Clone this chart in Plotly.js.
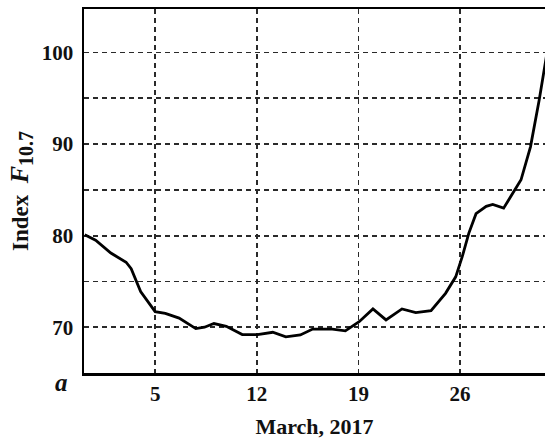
<!DOCTYPE html>
<html>
<head>
<meta charset="utf-8">
<script src="https://cdn.plot.ly/plotly-3.0.1.min.js"></script>
<style>html,body{margin:0;padding:0;background:#fff;}#chart{width:545px;height:441px;}</style>
</head>
<body>
<div id="chart"></div>
<script>
// Day of March 2017
const days = [0.15,0.9,1.95,3.0,3.35,4.0,5.0,5.7,6.65,7.8,8.4,9.05,9.9,11.0,12.05,13.1,14.0,15.0,15.85,17.2,18.1,19.05,20.0,20.9,22.0,22.95,24.0,25.0,25.7,26.15,26.6,27.1,27.8,28.25,29.0,29.6,30.2,30.85,31.45,31.95];
// F10.7 index values
const f107 = [80.1,79.5,78.1,77.1,76.4,73.9,71.7,71.5,71.0,69.85,70.0,70.4,70.1,69.2,69.2,69.45,68.95,69.15,69.8,69.8,69.6,70.6,72.0,70.8,72.0,71.6,71.8,73.7,75.5,77.7,80.25,82.4,83.2,83.4,83.0,84.6,86.1,89.7,94.8,99.6];
const xTicks = [5,12,19,26];
const yTicks = [70,80,90,100];
const yMinorTicks = [75,85,95];

const serif = 'Liberation Serif, Times New Roman, serif';
const trace = {
  x: days, y: f107, type: 'scatter', mode: 'lines',
  line: {color: '#000', width: 2.8},
  hoverinfo: 'skip'
};
const gridStyle = {showgrid: true, gridcolor: '#2a2a2a', gridwidth: 1.8, griddash: '5px,4px'};
const layout = {
  width: 545, height: 441,
  margin: {l: 84, r: 0, t: 9, b: 68},
  paper_bgcolor: '#fff', plot_bgcolor: '#fff',
  showlegend: false,
  font: {family: serif, color: '#000'},
  xaxis: Object.assign({
    range: [0.1, 31.85],
    tickvals: xTicks, ticktext: xTicks.map(String),
    tickfont: {family: serif, size: 21, weight: 'bold', color: '#111'},
    showline: true, linecolor: '#000', linewidth: 2.5, mirror: true,
    ticks: '', zeroline: false, ticklabelstandoff: 0,
    title: {text: 'March, 2017', font: {family: serif, size: 22, weight: 'bold', color: '#111'}, standoff: 14}
  }, gridStyle),
  yaxis: Object.assign({
    range: [65, 104.75],
    tickvals: yTicks, ticktext: yTicks.map(String),
    tickfont: {family: serif, size: 21, weight: 'bold', color: '#111'},
    minor: Object.assign({tickvals: yMinorTicks, ticks: ''}, gridStyle),
    showline: true, linecolor: '#000', linewidth: 2.5, mirror: false,
    ticks: '', zeroline: false, ticklabelstandoff: 4,
    title: {
      text: 'Index&nbsp;&nbsp;<span style="font-size:26px"><i>F</i></span><sub><span style="font-size:20px">10.7</span></sub>',
      font: {family: serif, size: 23, weight: 'bold', color: '#111'}, standoff: 7
    }
  }, gridStyle),
  annotations: [{
    text: '<i>a</i>', xref: 'paper', yref: 'paper', x: -0.048, y: -0.026,
    xanchor: 'center', yanchor: 'middle', showarrow: false,
    font: {family: serif, size: 25, weight: 'bold', color: '#111'}
  }]
};
Plotly.newPlot('chart', [trace], layout, {displayModeBar: false, staticPlot: true});
</script>
</body>
</html>
